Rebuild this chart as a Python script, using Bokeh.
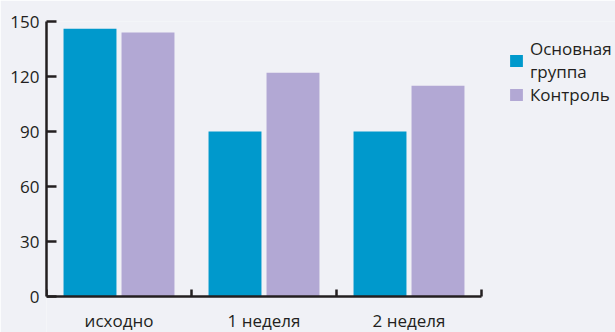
from bokeh.plotting import figure
from bokeh.models import Range1d, FixedTicker, Legend, LegendItem, ColumnDataSource
from bokeh.transform import dodge
from bokeh.embed import file_html
from bokeh.resources import INLINE

categories = ["исходно", "1 неделя", "2 неделя"]
main_group = [146, 90, 90]
control = [144, 122, 115]
series_names = ["Основная\nгруппа", "Контроль"]
y_ticks = [0, 30, 60, 90, 120, 150]
y_max = 150

FONT = "Open Sans"
AX = "#231f20"
BG = "#f0f1f6"

W, H = 615, 332
LEFT, TOP = 46, 21
AXIS_Y = 296          # pixel row of the value 0
PLOT_W = 435          # width of the bar area (axis length)
n = len(categories)
frame_w = W - LEFT
x_end = n * frame_w / PLOT_W            # frame extends right to hold the legend
px_per_unit = (AXIS_Y - TOP) / y_max
y_start = -(H - AXIS_Y) / px_per_unit   # frame extends below 0 to hold the labels

xc = [i + 0.5 for i in range(n)]
src = ColumnDataSource(dict(x=xc, a=main_group, b=control))

p = figure(width=W, height=H, output_backend="svg", toolbar_location=None,
           x_range=Range1d(0, x_end), y_range=Range1d(y_start, y_max),
           min_border_left=LEFT, min_border_right=0, min_border_top=TOP,
           min_border_bottom=0)
p.background_fill_color = BG
p.border_fill_color = BG
p.outline_line_color = None
p.grid.visible = False

r1 = p.vbar(x=dodge("x", -0.2, range=p.x_range), top="a", width=0.365, source=src,
            fill_color="#0099cc", line_color=None)
r2 = p.vbar(x=dodge("x", 0.2, range=p.x_range), top="b", width=0.365, source=src,
            fill_color="#b2a8d4", line_color=None)

xa = p.xaxis[0]
xa.fixed_location = 0
xa.bounds = (0, n)
xa.ticker = FixedTicker(ticks=xc, minor_ticks=list(range(n + 1)))
xa.major_label_overrides = {x: c for x, c in zip(xc, categories)}
xa.major_tick_in = 0
xa.major_tick_out = 0
xa.minor_tick_in = 7
xa.minor_tick_out = 0
xa.minor_tick_line_color = AX
xa.minor_tick_line_width = 2.5
xa.axis_line_color = AX
xa.axis_line_width = 2.5
xa.major_label_text_font = FONT
xa.major_label_text_font_size = "17px"
xa.major_label_text_color = AX
xa.major_label_standoff = 12

ya = p.yaxis[0]
ya.bounds = (0, y_max)
ya.ticker = FixedTicker(ticks=y_ticks)
ya.major_tick_in = 10
ya.major_tick_out = 0
ya.minor_tick_line_color = None
ya.major_tick_line_color = AX
ya.major_tick_line_width = 2.5
ya.axis_line_color = AX
ya.axis_line_width = 2.5
ya.major_label_text_font = FONT
ya.major_label_text_font_size = "17px"
ya.major_label_text_color = AX
ya.major_label_standoff = 7

legend = Legend(items=[LegendItem(label=series_names[0], renderers=[r1]),
                       LegendItem(label=series_names[1], renderers=[r2])],
                location=(462, 226), padding=0, margin=0, spacing=0,
                glyph_width=16, glyph_height=15, label_standoff=6,
                label_text_font=FONT, label_text_font_size="17px",
                label_text_color=AX, border_line_color=None,
                background_fill_alpha=0)
p.add_layout(legend, "center")

open("out.html", "w").write(file_html(p, INLINE))
